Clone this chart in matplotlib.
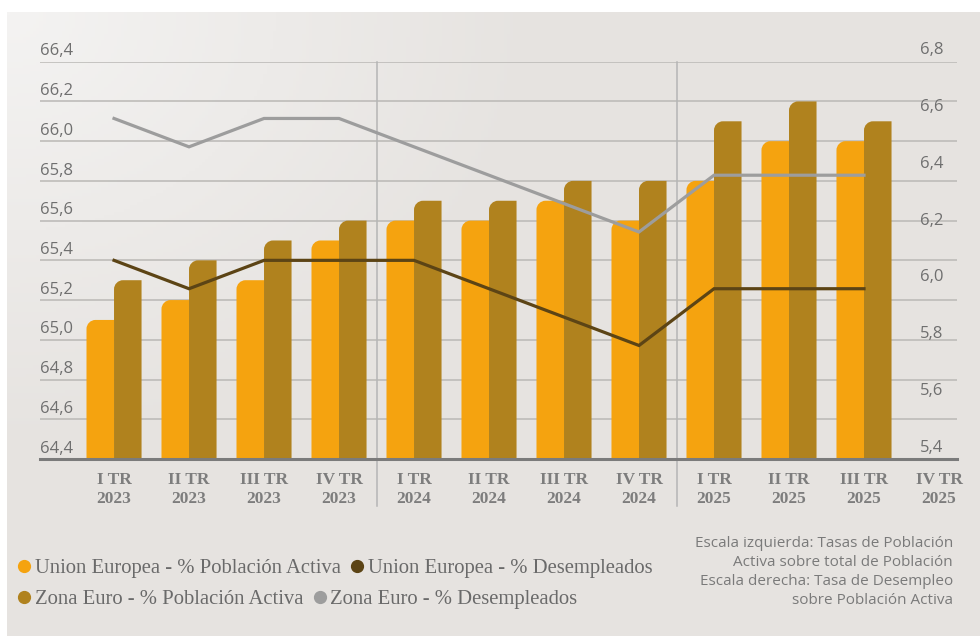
from __future__ import annotations

import matplotlib

matplotlib.use("Agg")

import matplotlib.pyplot as plt
import numpy as np
from matplotlib.lines import Line2D
from matplotlib.patches import PathPatch
from matplotlib.path import Path

# --- data -------------------------------------------------------------
quarters = [
    "I TR\n2023", "II TR\n2023", "III TR\n2023", "IV TR\n2023",
    "I TR\n2024", "II TR\n2024", "III TR\n2024", "IV TR\n2024",
    "I TR\n2025", "II TR\n2025", "III TR\n2025", "IV TR\n2025",
]

# left scale: active population rate (%)
ue_activa = [65.1, 65.2, 65.3, 65.5, 65.6, 65.6, 65.7, 65.6, 65.8, 66.0, 66.0]
ze_activa = [65.3, 65.4, 65.5, 65.6, 65.7, 65.7, 65.8, 65.8, 66.1, 66.2, 66.1]

# right scale: unemployment rate (%)
ue_desempleo = [6.1, 6.0, 6.1, 6.1, 6.1, 6.0, 5.9, 5.8, 6.0, 6.0, 6.0]
ze_desempleo = [6.6, 6.5, 6.6, 6.6, 6.5, 6.4, 6.3, 6.2, 6.4, 6.4, 6.4]

left_ticks = [64.4, 64.6, 64.8, 65.0, 65.2, 65.4, 65.6, 65.8, 66.0, 66.2, 66.4]
right_ticks = [5.4, 5.6, 5.8, 6.0, 6.2, 6.4, 6.6, 6.8]
year_breaks = [3.5, 7.5]

legend_labels = [
    "Union Europea - % Población Activa",
    "Union Europea - % Desempleados",
    "Zona Euro - % Población Activa",
    "Zona Euro - % Desempleados",
]
note = (
    "Escala izquierda: Tasas de Población\n"
    "Activa sobre total de Población\n"
    "Escala derecha: Tasa de Desempleo\n"
    "sobre Población Activa"
)

# --- style ------------------------------------------------------------
ORANGE = "#F5A30F"
GOLD = "#B0821E"
DARK = "#5C4415"
GREY_LINE = "#9D9D9D"
GRID = "#BAB8B5"
TICK_TEXT = "#6F6F6F"
CAT_TEXT = "#7D7D7D"


def _fmt(value: float) -> str:
    return f"{value:.1f}".replace(".", ",")


def _round_top_left(ax, bars, radius_px: float = 9.0) -> None:
    """
    Replace bar rectangles by paths with a rounded top-left corner.
    """
    bbox = ax.get_window_extent()
    x0, x1 = ax.get_xlim()
    y0, y1 = ax.get_ylim()
    rx = radius_px * (x1 - x0) / bbox.width
    ry = radius_px * (y1 - y0) / bbox.height
    k = 0.5523

    for bar in bars:
        x, y = bar.get_x(), bar.get_y()
        w, h = bar.get_width(), bar.get_height()
        top = y + h
        verts = [
            (x, y),
            (x, top - ry),
            (x, top - ry + k * ry),
            (x + rx - k * rx, top),
            (x + rx, top),
            (x + w, top),
            (x + w, y),
            (x, y),
        ]
        codes = [
            Path.MOVETO, Path.LINETO, Path.CURVE4, Path.CURVE4, Path.CURVE4,
            Path.LINETO, Path.LINETO, Path.CLOSEPOLY,
        ]
        ax.add_patch(
            PathPatch(
                Path(verts, codes),
                facecolor=bar.get_facecolor(),
                edgecolor="none",
                zorder=bar.get_zorder(),
            )
        )
        bar.remove()


def _background(fig) -> None:
    bg = fig.add_axes([7 / 980, 0, 1 - 7 / 980, 624 / 636], zorder=-10)
    yy, xx = np.mgrid[0:1:200j, 0:1:300j]
    dist = np.sqrt((xx / 0.55) ** 2 + (yy / 0.7) ** 2)
    t = np.clip(1 - dist, 0, 1)[..., None]
    base = np.array([0xE6, 0xE3, 0xE0]) / 255
    light = np.array([0xF4, 0xF3, 0xF2]) / 255
    bg.imshow(base + (light - base) * t, aspect="auto", extent=(0, 1, 0, 1), origin="upper")
    bg.set_axis_off()


fig = plt.figure(figsize=(9.8, 6.36), dpi=100, facecolor="white")
_background(fig)

ax = fig.add_axes([40 / 980, (636 - 459) / 636, 917 / 980, 397.3 / 636])
ax.patch.set_visible(False)
ax.set_xlim(-0.987, 11.24)
ax.set_ylim(left_ticks[0], left_ticks[-1])

ax2 = ax.twinx()
ax2.set_ylim(right_ticks[0], right_ticks[-1])

# grid (left scale) and year separators
for value in left_ticks[1:]:
    ax.axhline(value, color=GRID, linewidth=1.1, zorder=0)
for xb in year_breaks:
    ax.axvline(xb, ymin=-0.118, ymax=1, color="#B5B5B5", linewidth=1.1,
               clip_on=False, zorder=0)

x = np.arange(len(ue_activa))
width = 0.367
bars_ue = ax.bar(x - width / 2, ue_activa, width, color=ORANGE, zorder=2)
bars_ze = ax.bar(x + width / 2, ze_activa, width, color=GOLD, zorder=2)
_round_top_left(ax, bars_ue)
_round_top_left(ax, bars_ze)

ax2.plot(x, ze_desempleo, color=GREY_LINE, linewidth=2.3, solid_joinstyle="miter")
ax2.plot(x, ue_desempleo, color=DARK, linewidth=2.3, solid_joinstyle="miter")

# axes cosmetics
for side in ["top", "left", "right"]:
    ax.spines[side].set_visible(False)
    ax2.spines[side].set_visible(False)
ax2.spines["bottom"].set_visible(False)
ax.spines["bottom"].set_color("#7B7B7B")
ax.spines["bottom"].set_linewidth(2.2)
ax.spines["bottom"].set_zorder(3)

ax.set_yticks([])
ax2.set_yticks([])
ax.set_xticks(range(len(quarters)), quarters)
ax.tick_params(axis="x", length=0, pad=9.5)
for label in ax.get_xticklabels():
    label.set_fontfamily("Liberation Serif")
    label.set_fontweight("bold")
    label.set_fontsize(12.5)
    label.set_color(CAT_TEXT)
    label.set_linespacing(1.2)

for value in left_ticks:
    ax.text(0.0, value + 0.012, _fmt(value), transform=ax.get_yaxis_transform(),
            ha="left", va="bottom", fontsize=12, family="Open Sans",
            color=TICK_TEXT)
for value in right_ticks:
    ax2.text(0.9727, value + 0.012, _fmt(value), transform=ax2.get_yaxis_transform(),
             ha="center", va="bottom", fontsize=12, family="Open Sans",
             color=TICK_TEXT)

# legend, two flowing rows
legend_colors = [ORANGE, DARK, GOLD, GREY_LINE]
handles = [
    Line2D([], [], linestyle="none", marker="o", markersize=8.5,
           markerfacecolor=c, markeredgecolor=c)
    for c in legend_colors
]
legend_kw = dict(
    ncol=2, frameon=False, loc="center left", handletextpad=0.0,
    columnspacing=0.3, handlelength=1.0, borderpad=0, borderaxespad=0,
    prop={"family": "Liberation Serif", "size": 14.9}, labelcolor="#6A6A6A",
)
fig.legend(handles[:2], legend_labels[:2], bbox_to_anchor=(14 / 980, 1 - 568 / 636), **legend_kw)
fig.legend(handles[2:], legend_labels[2:], bbox_to_anchor=(14 / 980, 1 - 599 / 636), **legend_kw)

fig.text(953 / 980, 1 - 572 / 636, note, ha="right", va="center", fontsize=11,
         family="Open Sans", color="#7A7A7A", linespacing=1.36)

fig.savefig("out.png", dpi=100)
